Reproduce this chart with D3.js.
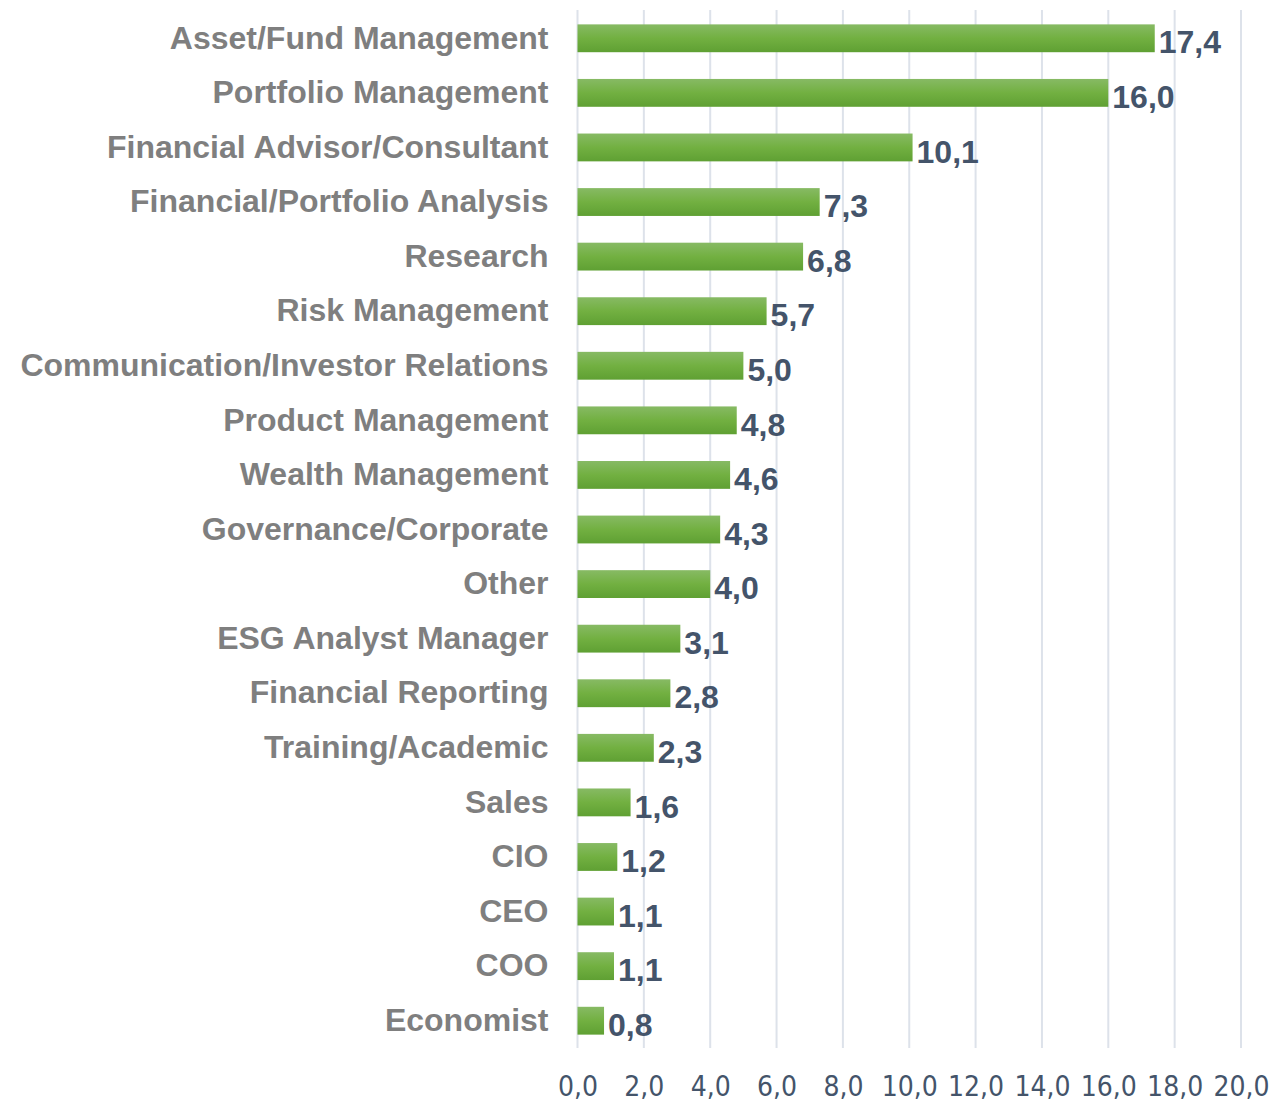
<!DOCTYPE html>
<html>
<head>
<meta charset="utf-8">
<script src="https://cdn.jsdelivr.net/npm/d3@7"></script>
<style>
  body { margin: 0; background: #fff; }
</style>
</head>
<body>
<div id="chart"></div>
<script>
var categories = ["Asset/Fund Management", "Portfolio Management", "Financial Advisor/Consultant",
  "Financial/Portfolio Analysis", "Research", "Risk Management", "Communication/Investor Relations",
  "Product Management", "Wealth Management", "Governance/Corporate", "Other", "ESG Analyst Manager",
  "Financial Reporting", "Training/Academic", "Sales", "CIO", "CEO", "COO", "Economist"];
var values = [17.4, 16.0, 10.1, 7.3, 6.8, 5.7, 5.0, 4.8, 4.6, 4.3, 4.0, 3.1, 2.8, 2.3, 1.6, 1.2, 1.1, 1.1, 0.8];
var tickValues = [0, 2, 4, 6, 8, 10, 12, 14, 16, 18, 20];

var width = 1273, height = 1105;
var margin = { top: 11, right: 32, bottom: 57, left: 577.5 };

var fmt = function(v) { return d3.format(".1f")(v).replace(".", ","); };

var svg = d3.select("#chart").append("svg")
    .attr("width", width)
    .attr("height", height);

var x = d3.scaleLinear().domain([0, 20]).range([margin.left, 1241]);
var y = d3.scaleBand().domain(categories)
    .range([margin.top, height - margin.bottom])
    .paddingInner(0.49).paddingOuter(0.245);

var grad = svg.append("defs").append("linearGradient")
    .attr("id", "barGrad").attr("x1", 0).attr("y1", 0).attr("x2", 0).attr("y2", 1);
grad.append("stop").attr("offset", "0%").attr("stop-color", "#87ba64");
grad.append("stop").attr("offset", "50%").attr("stop-color", "#72b041");
grad.append("stop").attr("offset", "100%").attr("stop-color", "#5fa033");

// grid lines
svg.append("g").selectAll("line")
    .data(tickValues)
    .enter().append("line")
    .attr("x1", function(d) { return x(d); })
    .attr("x2", function(d) { return x(d); })
    .attr("y1", 10)
    .attr("y2", 1048)
    .attr("stroke", "#dde2ea")
    .attr("stroke-width", 2);

// x axis labels
var xAxis = d3.axisBottom(x).tickValues(tickValues).tickFormat(fmt).tickSize(0).tickPadding(0);
var gx = svg.append("g").attr("transform", "translate(0,1076)").call(xAxis);
gx.select(".domain").remove();
gx.selectAll("text")
    .style("font-family", "'Liberation Sans Narrow', 'DejaVu Sans Condensed', sans-serif")
    .style("font-size", "28px")
    .attr("fill", "#44546a");

// category labels
var yAxis = d3.axisLeft(y).tickSize(0).tickPadding(29);
var gy = svg.append("g").attr("transform", "translate(" + margin.left + ",0)").call(yAxis);
gy.select(".domain").remove();
gy.selectAll("text")
    .style("font-family", "'Liberation Sans', Arial, sans-serif")
    .style("font-weight", "bold")
    .style("font-size", "32px")
    .attr("fill", "#7f7f7f");

// bars
svg.append("g").selectAll("rect")
    .data(values)
    .enter().append("rect")
    .attr("x", x(0))
    .attr("y", function(d, i) { return y(categories[i]); })
    .attr("width", function(d) { return x(d) - x(0); })
    .attr("height", y.bandwidth())
    .attr("fill", "url(#barGrad)");

// value labels
svg.append("g").selectAll("text")
    .data(values)
    .enter().append("text")
    .attr("x", function(d) { return x(d) + 4; })
    .attr("y", function(d, i) { return y(categories[i]) + y.bandwidth() / 2 + 4; })
    .attr("dy", "0.35em")
    .text(fmt)
    .style("font-family", "'Liberation Sans', Arial, sans-serif")
    .style("font-weight", "bold")
    .style("font-size", "32px")
    .attr("fill", "#44546a");
</script>
</body>
</html>
